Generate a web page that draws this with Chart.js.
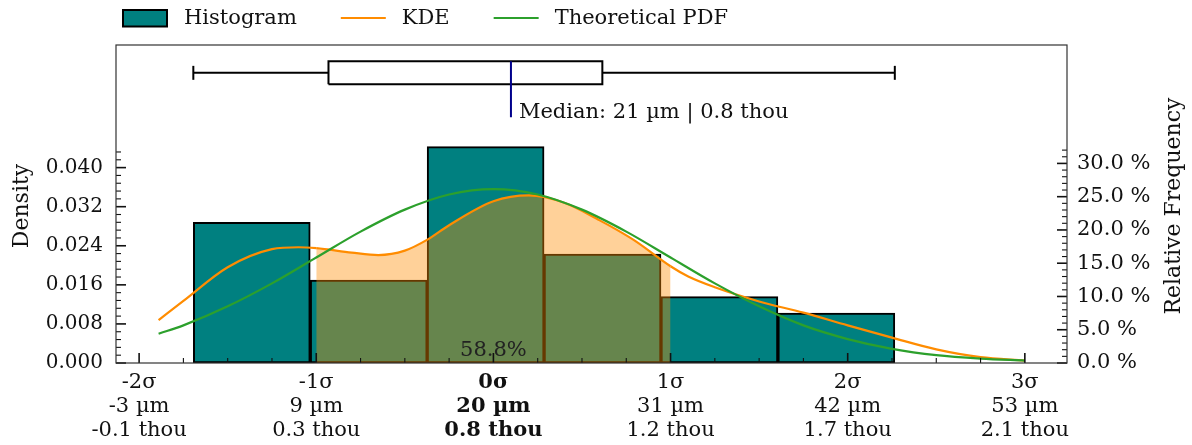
<!DOCTYPE html>
<html>
<head>
<meta charset="utf-8">
<script src="https://cdn.jsdelivr.net/npm/chart.js@4.4.1/dist/chart.umd.min.js"></script>
<style>
  html, body { margin: 0; padding: 0; background: #fff; }
  #wrap { width: 1192px; height: 445px; position: relative; }
</style>
</head>
<body>
<div id="wrap"><canvas id="chart"></canvas></div>
<script>
// x values are in sigma units (0 = mean)
const sigmaTicks = [-2, -1, 0, 1, 2, 3];
const sigmaLabels = ['-2σ', '-1σ', '0σ', '1σ', '2σ', '3σ'];
const umLabels = ['-3 µm', '9 µm', '20 µm', '31 µm', '42 µm', '53 µm'];
const thouLabels = ['-0.1 thou', '0.3 thou', '0.8 thou', '1.2 thou', '1.7 thou', '2.1 thou'];

const densityTicks = [0, 0.008, 0.016, 0.024, 0.032, 0.040];
const freqTicks = [0, 5, 10, 15, 20, 25, 30];

// histogram
const binEdges = [-1.694, -1.034, -0.374, 0.286, 0.946, 1.606, 2.266];
const binDensity = [0.0288, 0.0170, 0.0443, 0.0223, 0.0136, 0.0102];

// KDE curve
const kdeX = [-1.89, -1.75, -1.5, -1.25, -1.1, -1.0, -0.8, -0.65, -0.5, -0.37, -0.25, 0, 0.2, 0.4, 0.6, 0.7, 0.8, 1.0, 1.1, 1.25, 1.5, 1.75, 2.0, 2.25, 2.5, 2.75, 3.0];
const kdeY = [0.0088, 0.0127, 0.0196, 0.0233, 0.0237, 0.0235, 0.0226, 0.0221, 0.0230, 0.0253, 0.0282, 0.0331, 0.0343, 0.0328, 0.0292, 0.0272, 0.0250, 0.0198, 0.0177, 0.0155, 0.0126, 0.0103, 0.0077, 0.0052, 0.0028, 0.0012, 0.0005];

// theoretical normal PDF
const pdfX = [-1.89, -1.75, -1.5, -1.25, -1.0, -0.75, -0.5, -0.25, 0, 0.25, 0.5, 0.75, 1.0, 1.25, 1.5, 1.75, 2.0, 2.25, 2.5, 2.75, 3.0];
const pdfY = [0.0060, 0.0077, 0.0116, 0.0163, 0.0216, 0.0269, 0.0314, 0.0345, 0.0356, 0.0345, 0.0314, 0.0269, 0.0216, 0.0163, 0.0116, 0.0077, 0.0049, 0.0029, 0.0016, 0.0009, 0.0005];

// box plot: low whisker, Q1, median, Q3, high whisker
const boxStats = [-1.694, -0.931, 0.099, 0.615, 2.266];
const medianLabel = 'Median: 21 µm | 0.8 thou';
const withinLabel = '58.8%';

// layout
const X_MIN = -2.1305, X_MAX = 3.238;
const Y_MAX = 0.0651, Y2_MAX = 47.8;
const BOX_Y = 0.0594, BOX_HALF = 0.00236, CAP_HALF = 0.00143;
const MEDIAN_LOW = 0.0503, WITHIN_Y = 0.0025;
const FONT = '"DejaVu Serif", "Liberation Serif", serif';
const ORANGE = '#ff8c00', GREEN = '#2ca02c', TEAL = '#008080';

const binCenters = binDensity.map((d, i) => (binEdges[i] + binEdges[i + 1]) / 2);
const pts = (xs, ys) => xs.map((x, i) => ({x, y: ys[i]}));
const [wLo, q1, med, q3, wHi] = boxStats;

function seg(data, color, order) {
  return { type: 'line', data, borderColor: color, borderWidth: 2, pointRadius: 0,
           tension: 0, fill: false, order, spanGaps: false };
}

const decor = {
  id: 'decor',
  afterDatasetsDraw(chart) {
    const {ctx, chartArea: a, scales: {x, y, y2}} = chart;
    ctx.save();
    ctx.font = '21px ' + FONT;
    ctx.fillStyle = '#222';
    ctx.textAlign = 'center';
    ctx.textBaseline = 'middle';
    ctx.fillText(withinLabel, x.getPixelForValue(0), y.getPixelForValue(WITHIN_Y));
    ctx.fillStyle = '#111';
    ctx.textAlign = 'left';
    ctx.textBaseline = 'alphabetic';
    ctx.fillText(medianLabel, x.getPixelForValue(med) + 8, y.getPixelForValue(MEDIAN_LOW) + 1);

    // inward ticks
    ctx.strokeStyle = '#111';
    const tick = (x0, y0, x1, y1, w) => {
      ctx.lineWidth = w; ctx.beginPath(); ctx.moveTo(x0, y0); ctx.lineTo(x1, y1); ctx.stroke();
    };
    for (let k = -8; k <= 12; k++) {
      const v = k * 0.25;
      const px = x.getPixelForValue(v);
      const major = k % 4 === 0;
      tick(px, a.bottom, px, a.bottom - (major ? 10 : 5), major ? 1.6 : 1.1);
    }
    const maxD = Math.max(...binDensity);
    for (let k = 0; k * 0.0016 <= maxD; k++) {
      const py = y.getPixelForValue(k * 0.0016);
      const major = k % 5 === 0;
      tick(a.left, py, a.left + (major ? 10 : 5), py, major ? 1.6 : 1.1);
    }
    const maxF = maxD * Y2_MAX / Y_MAX;
    for (let k = 0; k <= maxF; k++) {
      const py = y2.getPixelForValue(k);
      const major = k % 5 === 0;
      tick(a.right, py, a.right - (major ? 10 : 5), py, major ? 1.6 : 1.1);
    }
    // frame
    ctx.strokeStyle = '#333';
    ctx.lineWidth = 1.2;
    ctx.strokeRect(a.left, a.top, a.right - a.left, a.bottom - a.top);
    ctx.restore();
  },
  afterDraw(chart) {
    const {ctx, chartArea: a} = chart;
    ctx.save();
    ctx.font = '21px ' + FONT;
    ctx.fillStyle = '#111';
    ctx.textBaseline = 'middle';
    ctx.textAlign = 'left';
    // legend
    let lx = 123;
    const ly = 18;
    const items = [['Histogram', 'box', TEAL], ['KDE', 'line', ORANGE], ['Theoretical PDF', 'line', GREEN]];
    items.forEach(([text, kind, color]) => {
      if (kind === 'box') {
        ctx.fillStyle = color;
        ctx.fillRect(lx, ly - 8, 44, 16.5);
        ctx.strokeStyle = '#000';
        ctx.lineWidth = 2;
        ctx.strokeRect(lx, ly - 8, 44, 16.5);
      } else {
        ctx.strokeStyle = color;
        ctx.lineWidth = 2.2;
        ctx.beginPath(); ctx.moveTo(lx, ly); ctx.lineTo(lx + 45, ly); ctx.stroke();
      }
      ctx.fillStyle = '#111';
      ctx.fillText(text, lx + 61, ly + 1);
      lx += 61 + ctx.measureText(text).width + 44;
    });
    // axis titles
    const cy = (a.top + a.bottom) / 2 + 2;
    ctx.font = '22px ' + FONT;
    ctx.textAlign = 'center';
    ctx.textBaseline = 'alphabetic';
    [[28, 'Density'], [1180, 'Relative Frequency']].forEach(([tx, text]) => {
      ctx.save();
      ctx.translate(tx, cy);
      ctx.rotate(-Math.PI / 2);
      ctx.fillText(text, 0, 0);
      ctx.restore();
    });
    ctx.restore();
  }
};

Chart.defaults.font.family = FONT;
Chart.defaults.font.size = 21;
Chart.defaults.color = '#111';

new Chart(document.getElementById('chart'), {
  type: 'line',
  data: {
    datasets: [
      seg([{x: med, y: BOX_Y + BOX_HALF}, {x: med, y: MEDIAN_LOW}], '#00008b', 0),
      seg([{x: q1, y: BOX_Y - BOX_HALF}, {x: q3, y: BOX_Y - BOX_HALF}, {x: q3, y: BOX_Y + BOX_HALF},
           {x: q1, y: BOX_Y + BOX_HALF}, {x: q1, y: BOX_Y - BOX_HALF}], '#000', 1),
      seg([{x: wLo, y: BOX_Y}, {x: q1, y: BOX_Y}], '#000', 1),
      seg([{x: q3, y: BOX_Y}, {x: wHi, y: BOX_Y}], '#000', 1),
      seg([{x: wLo, y: BOX_Y - CAP_HALF}, {x: wLo, y: BOX_Y + CAP_HALF}], '#000', 1),
      seg([{x: wHi, y: BOX_Y - CAP_HALF}, {x: wHi, y: BOX_Y + CAP_HALF}], '#000', 1),
      {
        type: 'line', label: 'Theoretical PDF', data: pts(pdfX, pdfY),
        borderColor: GREEN, borderWidth: 2.2, pointRadius: 0,
        cubicInterpolationMode: 'monotone', fill: false, order: 2
      },
      {
        type: 'line', label: 'KDE', data: pts(kdeX, kdeY),
        borderColor: ORANGE, borderWidth: 2.2, pointRadius: 0,
        cubicInterpolationMode: 'monotone',
        fill: 'origin', backgroundColor: 'rgba(0,0,0,0)',
        segment: {
          backgroundColor: c => (c.p0.parsed.x >= -1.0001 && c.p1.parsed.x <= 1.0001)
            ? 'rgba(255,140,0,0.4)' : 'rgba(0,0,0,0)'
        },
        order: 3
      },
      {
        type: 'bar', label: 'Histogram', data: pts(binCenters, binDensity),
        backgroundColor: TEAL, borderColor: '#000', borderWidth: 2, borderSkipped: false,
        barPercentage: 1, categoryPercentage: 1, grouped: false, order: 5
      }
    ]
  },
  options: {
    responsive: true,
    maintainAspectRatio: false,
    animation: false,
    layout: { padding: { top: 45, left: 0, right: 0, bottom: 0 } },
    plugins: { legend: { display: false }, tooltip: { enabled: false } },
    scales: {
      x: {
        type: 'linear', min: X_MIN, max: X_MAX, offset: false,
        grid: { display: false, drawTicks: false }, border: { display: false },
        afterBuildTicks: s => { s.ticks = sigmaTicks.map(v => ({value: v})); },
        afterFit: s => { s.height = 82; },
        ticks: {
          autoSkip: false, maxRotation: 0, padding: 8, color: '#111',
          font: c => ({ size: 21, lineHeight: 1.143, weight: (c.tick && c.tick.value === 0) ? 'bold' : 'normal' }),
          callback: (v, i) => [sigmaLabels[i], umLabels[i], thouLabels[i]]
        }
      },
      y: {
        position: 'left', min: 0, max: Y_MAX,
        grid: { display: false, drawTicks: false }, border: { display: false },
        afterBuildTicks: s => { s.ticks = densityTicks.map(v => ({value: v})); },
        afterFit: s => { s.width = 116; },
        ticks: { padding: 13, color: '#111', font: { size: 20 }, callback: v => v.toFixed(3) }
      },
      y2: {
        position: 'right', min: 0, max: Y2_MAX,
        grid: { display: false, drawTicks: false }, border: { display: false },
        afterBuildTicks: s => { s.ticks = freqTicks.map(v => ({value: v})); },
        afterFit: s => { s.width = 125; },
        ticks: { padding: 10, color: '#111', callback: v => v.toFixed(1) + ' %' }
      }
    }
  },
  plugins: [decor]
});
</script>
</body>
</html>
